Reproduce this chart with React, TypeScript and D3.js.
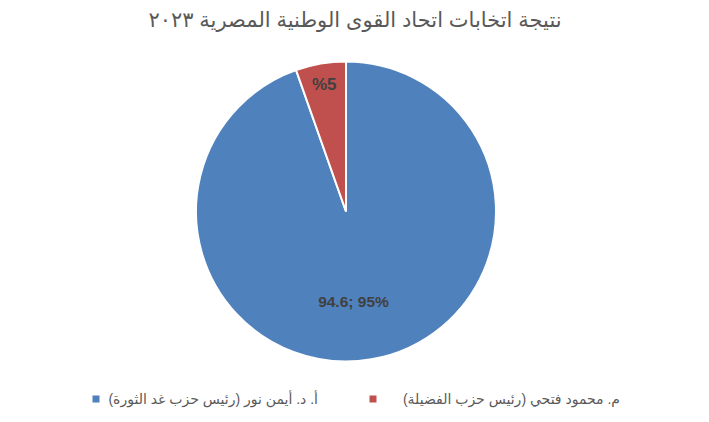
import React from "react";
import * as d3 from "d3";

const categories = ["أ. د. أيمن نور (رئيس حزب غد الثورة)", "م. محمود فتحي (رئيس حزب الفضيلة)"];
const values = [94.6, 5.4];
const sliceLabels = ["94.6; 95%", "%5"];
const colors = ["#4F81BD", "#C0504D"];
const title = "نتيجة اتخابات اتحاد القوى الوطنية المصرية ٢٠٢٣";

export default function App() {
  const W = 709, H = 422;
  const cx = 346, cy = 211.5, r = 150;
  const pie = d3.pie<number>().sort(null).value((d) => d);
  const arcs = pie(values);
  const arc = d3.arc<d3.PieArcDatum<number>>().innerRadius(0).outerRadius(r);
  const labelPos = [
    { rr: 0.61, dx: -8 },
    { rr: 0.86, dx: 0 },
  ];
  const font = "'Liberation Sans', 'DejaVu Sans', Arial, sans-serif";
  const legendItems = [
    { i: 1, mx: 373, tx: 620 },
    { i: 0, mx: 96, tx: 318 },
  ];
  return (
    <svg width={W} height={H} style={{ position: "absolute", left: 0, top: 0, background: "#fff" }}>
      <rect width={W} height={H} fill="#fff" />
      <text x={355} y={27} textAnchor="middle" fontFamily={font} fontSize={21} fill="#595959" direction="rtl">
        {title}
      </text>
      <g transform={`translate(${cx},${cy})`}>
        {arcs.map((a, i) => (
          <path key={i} d={arc(a) || ""} fill={colors[i]} stroke="#fff" strokeWidth={2} />
        ))}
        {arcs.map((a, i) => {
          const mid = (a.startAngle + a.endAngle) / 2;
          const rr = r * labelPos[i].rr;
          const x = Math.sin(mid) * rr + labelPos[i].dx;
          const y = -Math.cos(mid) * rr;
          return (
            <text key={i} x={x} y={y} textAnchor="middle" dominantBaseline="central" fontFamily={font}
              fontWeight="bold" fontSize={i === 0 ? 15.5 : 17} fill="#404040">
              {sliceLabels[i]}
            </text>
          );
        })}
      </g>
      {legendItems.map((it) => (
        <g key={it.i}>
          <rect x={it.mx - 3.5} y={395.5} width={7} height={7} fill={colors[it.i]} />
          <text x={it.tx} y={399} textAnchor="start" dominantBaseline="central" fontFamily={font} fontSize={14}
            fill="#595959" direction="rtl">
            {categories[it.i]}
          </text>
        </g>
      ))}
    </svg>
  );
}
